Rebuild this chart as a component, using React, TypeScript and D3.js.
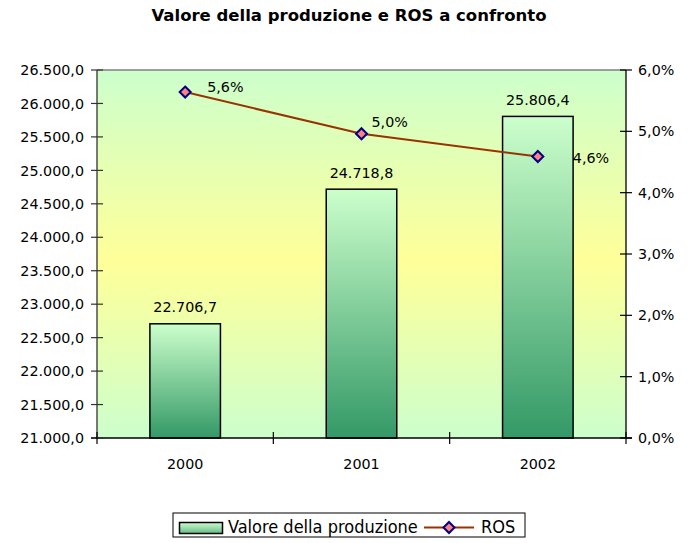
import React from "react";
import * as d3 from "d3";

const years = ["2000", "2001", "2002"];
const produzione = [22706.7, 24718.8, 25806.4];
const ros = [0.0564, 0.0496, 0.0459];
const leftTicks = [21000, 21500, 22000, 22500, 23000, 23500, 24000, 24500, 25000, 25500, 26000, 26500];
const rightTicks = [0, 0.01, 0.02, 0.03, 0.04, 0.05, 0.06];
// label offsets for ROS data labels (dx, dy from marker)
const rosLabelOffsets = [[22, 0], [10, -7], [35, 7]];

const W = 690, H = 543;
const L = 97, R = 626, T = 70, B = 438;
const FONT = "'DejaVu Sans', Verdana, sans-serif";
const FONT_C = "'DejaVu Sans Condensed', 'DejaVu Sans', sans-serif";

const itFmt = (v: number, d: number) => {
  const s = v.toFixed(d);
  const [ip, dp] = s.split(".");
  const withDots = ip.replace(/\B(?=(\d{3})+(?!\d))/g, ".");
  return dp !== undefined ? `${withDots},${dp}` : withDots;
};

export default function App() {
  const x = d3.scaleBand<string>().domain(years).range([L, R]).padding(0);
  const yL = d3.scaleLinear().domain([21000, 26500]).range([B, T]);
  const yR = d3.scaleLinear().domain([0, 0.06]).range([B, T]);
  const bw = x.bandwidth() * 0.4;
  const cx = (c: string) => (x(c) as number) + x.bandwidth() / 2;
  const line = d3
    .line<number>()
    .x((_, i) => cx(years[i]))
    .y((d) => yR(d));

  const diamond = (px: number, py: number, r = 5.5) =>
    `M${px},${py - r}L${px + r},${py}L${px},${py + r}L${px - r},${py}Z`;

  return (
    <svg width={W} height={H} style={{ position: "absolute", left: 0, top: 0, background: "#fff" }}>
      <defs>
        <linearGradient id="bg" x1="0" y1="0" x2="0" y2="1">
          <stop offset="0%" stopColor="#ccffcc" />
          <stop offset="52%" stopColor="#ffff99" />
          <stop offset="100%" stopColor="#ccffcc" />
        </linearGradient>
        <linearGradient id="bar" x1="0" y1="0" x2="0" y2="1">
          <stop offset="0%" stopColor="#ccffcc" />
          <stop offset="100%" stopColor="#339966" />
        </linearGradient>
        <linearGradient id="leg" x1="0" y1="0" x2="0" y2="1">
          <stop offset="0%" stopColor="#ccffcc" />
          <stop offset="100%" stopColor="#66bb88" />
        </linearGradient>
      </defs>

      <text x={349} y={21} textAnchor="middle" fontFamily={FONT} fontWeight="bold" fontSize={16.5} fill="#000">
        Valore della produzione e ROS a confronto
      </text>

      <rect x={L} y={T} width={R - L} height={B - T} fill="url(#bg)" />
      <line x1={L} y1={T} x2={R} y2={T} stroke="#808080" strokeWidth={1.5} />

      {years.map((c, i) => (
        <rect
          key={c}
          x={cx(c) - bw / 2}
          y={yL(produzione[i])}
          width={bw}
          height={B - yL(produzione[i])}
          fill="url(#bar)"
          stroke="#000"
          strokeWidth={1.5}
        />
      ))}

      {/* axes */}
      <line x1={L} y1={T} x2={L} y2={B} stroke="#333" strokeWidth={1.3} />
      <line x1={R} y1={T} x2={R} y2={B} stroke="#000" strokeWidth={1.3} />
      <line x1={L - 6} y1={B} x2={R + 6} y2={B} stroke="#000" strokeWidth={1.3} />

      {leftTicks.map((t) => (
        <g key={t}>
          <line x1={L - 6} x2={L + 6} y1={yL(t)} y2={yL(t)} stroke="#333" strokeWidth={1.2} />
          <text x={84} y={yL(t)} dy="0.36em" textAnchor="end" fontFamily={FONT} fontSize={14.3} fill="#000">
            {itFmt(t, 1)}
          </text>
        </g>
      ))}
      {rightTicks.map((t) => (
        <g key={t}>
          <line x1={R - 6} x2={R + 6} y1={yR(t)} y2={yR(t)} stroke="#000" strokeWidth={1.2} />
          <text x={638} y={yR(t)} dy="0.36em" textAnchor="start" fontFamily={FONT} fontSize={14.3} fill="#000">
            {itFmt(t * 100, 1)}%
          </text>
        </g>
      ))}
      {[...years.map((c) => x(c) as number), R].map((px, i) => (
        <line key={i} x1={px} x2={px} y1={B - 6} y2={B + 6} stroke="#000" strokeWidth={1.2} />
      ))}
      {years.map((c) => (
        <text key={c} x={cx(c)} y={469} textAnchor="middle" fontFamily={FONT} fontSize={14.3} fill="#000">
          {c}
        </text>
      ))}

      {/* bar labels */}
      {years.map((c, i) => (
        <text key={c} x={cx(c)} y={yL(produzione[i]) - 11.5} textAnchor="middle" fontFamily={FONT} fontSize={14.3} fill="#000">
          {itFmt(produzione[i], 1)}
        </text>
      ))}

      {/* ROS line */}
      <path d={line(ros) as string} fill="none" stroke="#993300" strokeWidth={2} />
      {ros.map((v, i) => (
        <path key={i} d={diamond(cx(years[i]), yR(v))} fill="#ff8080" stroke="#000080" strokeWidth={2} />
      ))}
      {ros.map((v, i) => (
        <text
          key={i}
          x={cx(years[i]) + rosLabelOffsets[i][0]}
          y={yR(v) + rosLabelOffsets[i][1]}
          textAnchor="start"
          fontFamily={FONT}
          fontSize={14.3}
          fill="#000"
        >
          {itFmt(v * 100, 1)}%
        </text>
      ))}

      {/* legend */}
      <rect x={173} y={513} width={352} height={24} fill="#fff" stroke="#000" strokeWidth={1} />
      <rect x={179.5} y={522.5} width={43} height={11} fill="url(#leg)" stroke="#000" strokeWidth={1.5} />
      <text x={228} y={533} fontFamily={FONT_C} fontSize={18} fill="#000">
        Valore della produzione
      </text>
      <line x1={424} x2={474} y1={527.5} y2={527.5} stroke="#993300" strokeWidth={2} />
      <path d={diamond(449, 527.5)} fill="#ff8080" stroke="#000080" strokeWidth={2} />
      <text x={481} y={533} fontFamily={FONT_C} fontSize={18} fill="#000">
        ROS
      </text>
    </svg>
  );
}
